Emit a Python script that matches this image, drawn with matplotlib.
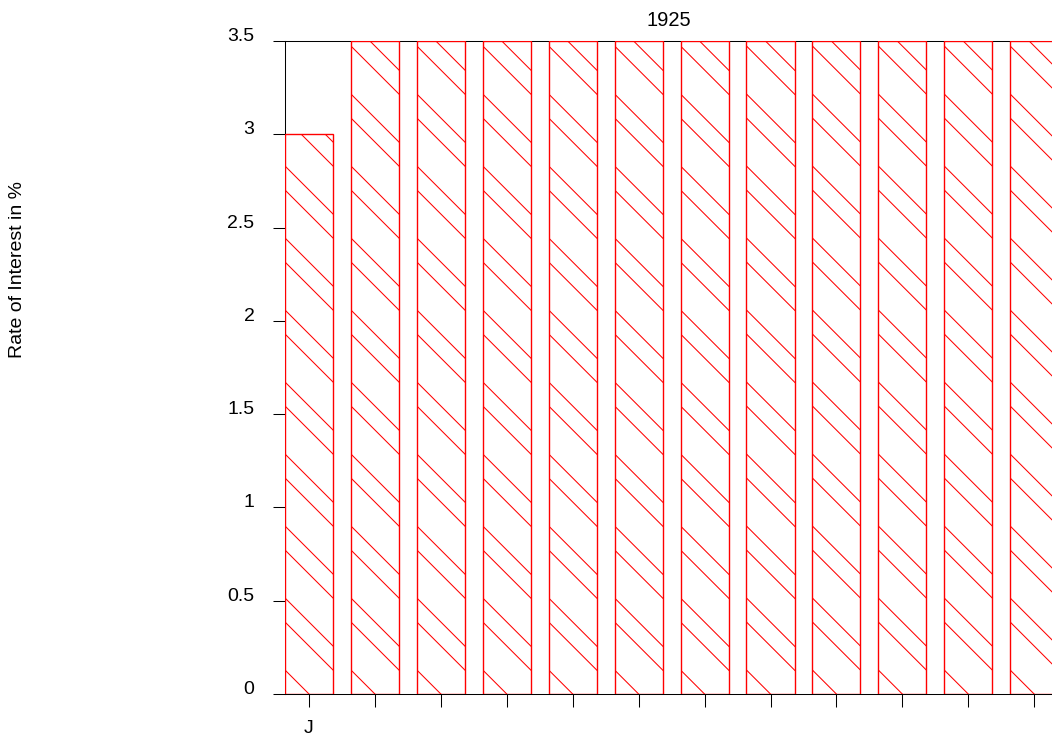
import matplotlib
matplotlib.use("Agg")
import matplotlib.pyplot as plt
from matplotlib.lines import Line2D
from matplotlib.transforms import IdentityTransform
import numpy as np

plt.rcParams['font.family'] = ['Liberation Sans', 'DejaVu Sans']

# data
months = ["J", "", "", "", "", "", "", "", "", "", "", ""]
rates = [3.0, 3.5, 3.5, 3.5, 3.5, 3.5, 3.5, 3.5, 3.5, 3.5, 3.5, 3.5]
yticks = [0, 0.5, 1, 1.5, 2, 2.5, 3, 3.5]
ytick_labels = ["0", "0.5", "1", "1.5", "2", "2.5", "3", "3.5"]

W, H = 1052, 738
fig = plt.figure(figsize=(W / 100, H / 100), dpi=100)
ax = fig.add_axes([285 / W, 44 / H, (W - 285) / W, (694 - 41) / H])

x = np.arange(len(rates))
bars = ax.bar(x, rates, width=0.73, facecolor="white", edgecolor="#ff0000",
              linewidth=1.0, zorder=3)

ax.set_xlim(-0.365, 11.27)
ax.set_ylim(0, 3.5)
ax.set_xticks(x, months)
ax.set_yticks(yticks, ytick_labels)
ax.tick_params(axis="y", direction="out", length=9, width=0.75, pad=13, labelsize=14)
ax.tick_params(axis="x", direction="out", length=9, width=0.75, pad=10, labelsize=14)
for t in ax.get_yticklabels():
    t.set_verticalalignment("baseline")
ax.spines["right"].set_visible(False)
for s in ["left", "top", "bottom"]:
    ax.spines[s].set_linewidth(0.75)
    ax.spines[s].set_color("black")

ax.set_title("1925", fontsize=14.5, pad=11)
fig.text(18 / W, 1 - 270 / H, "Rate of Interest in %", rotation=90,
         ha="center", va="center", fontsize=14)

# hatch: 45 degree lines every 24 px, every third one left out
fig.canvas.draw()
step = 24
for b in bars:
    bb = b.get_window_extent()
    w = bb.x1 - bb.x0
    n_max = int((bb.y1 - bb.y0 + w) / step) + 2
    for n in range(n_max):
        if n % 3 == 2:
            continue
        ys = bb.y0 + step * n
        ln = Line2D([bb.x0, bb.x0 + w + 4], [ys, ys - w - 4],
                    transform=IdentityTransform(), color="#ff0000", lw=0.75, zorder=3)
        ax.add_artist(ln)
        ln.set_clip_path(b)

fig.savefig("out.png", dpi=100)
